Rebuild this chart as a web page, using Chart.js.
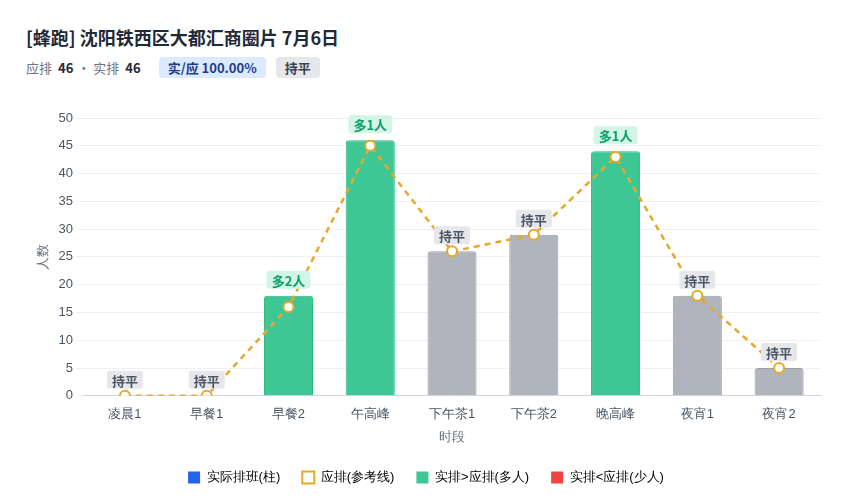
<!DOCTYPE html>
<html><head><meta charset="utf-8">
<script src="https://cdn.jsdelivr.net/npm/chart.js@4"></script>
<style>
body{margin:0;font-family:"Noto Sans CJK SC","Noto Sans",sans-serif;background:#fff;}
#hd{position:absolute;left:26px;top:24px;}
h1{font-size:18px;margin:0 0 7px 0;color:#1f2937;font-weight:700;}
.sub{font-size:13px;color:#6b7280;display:flex;align-items:center;}
.sub b{color:#1f2937;margin:0 4px 0 6px;}
.tag{border-radius:4px;padding:1px 9px;margin-left:10px;font-weight:700;font-size:13px;}
#wrap{position:absolute;left:0;top:100px;width:850px;height:400px;}
</style></head><body>
<div id="hd"><h1>[蜂跑] 沈阳铁西区大都汇商圈片 7月6日</h1>
<div class="sub">应排<b>46</b>· 实排<b>46</b>
<span class="tag" style="background:#dbeafe;color:#1e3a8a;margin-left:14px">实/应 100.00%</span>
<span class="tag" style="background:#e5e7eb;color:#374151">持平</span></div></div>
<div id="wrap"><canvas id="c"></canvas></div>
<script>
const slots = ['凌晨1','早餐1','早餐2','午高峰','下午茶1','下午茶2','晚高峰','夜宵1','夜宵2'];
const actual = [0, 0, 18, 46, 26, 29, 44, 18, 5];
const planned = [0, 0, 16, 45, 26, 29, 43, 18, 5];
const GREEN = '#3ec795', GRAY = '#b0b4bd', RED = '#ef4444', ORANGE = '#e6a82a';

const barColors = actual.map((v, i) => v > planned[i] ? GREEN : v < planned[i] ? RED : GRAY);

const diffLabels = {
  id: 'diffLabels',
  afterDatasetsDraw(chart) {
    const ctx = chart.ctx, y = chart.scales.y;
    const bars = chart.getDatasetMeta(0).data;
    ctx.save();
    ctx.font = 'bold 13px "Noto Sans CJK SC"';
    ctx.textAlign = 'center'; ctx.textBaseline = 'middle';
    actual.forEach((v, i) => {
      const d = v - planned[i];
      const txt = d > 0 ? '多' + d + '人' : d < 0 ? '少' + (-d) + '人' : '持平';
      const top = y.getPixelForValue(Math.max(v, planned[i]));
      const cx = bars[i].x, cy = top - 16;
      const w = ctx.measureText(txt).width + 10;
      ctx.fillStyle = d > 0 ? '#d3f5e5' : d < 0 ? '#fde2e2' : '#e5e7eb';
      ctx.beginPath(); ctx.roundRect(cx - w / 2, cy - 9, w, 18, 3); ctx.fill();
      ctx.fillStyle = d > 0 ? '#0f9f6e' : d < 0 ? '#dc2626' : '#4b5563';
      ctx.fillText(txt, cx, cy + 1);
    });
    ctx.restore();
  }
};

new Chart(document.getElementById('c'), {
  data: {
    labels: slots,
    datasets: [
      { type: 'bar', label: '实际排班(柱)', data: actual, backgroundColor: barColors,
        borderColor: barColors.map(c => c === GRAY ? '#9ca0a8' : '#2fb582'), borderWidth: 1,
        borderRadius: 3, borderSkipped: 'bottom', categoryPercentage: 0.6, barPercentage: 1, order: 2 },
      { type: 'line', label: '应排(参考线)', data: planned, borderColor: ORANGE, borderWidth: 2.5,
        borderDash: [6, 5], pointRadius: 5, pointBackgroundColor: '#fff', pointBorderColor: ORANGE,
        pointBorderWidth: 2, tension: 0, order: 1 }
    ]
  },
  options: {
    responsive: true, maintainAspectRatio: false, animation: false,
    layout: { padding: { left: 32, right: 30, top: 18, bottom: 6 } },
    scales: {
      y: { min: 0, max: 50, ticks: { stepSize: 5, color: '#4b5563', font: { size: 13 } },
        grid: { color: '#eef0f3' }, border: { display: false },
        title: { display: true, text: '人数', color: '#6b7280', font: { size: 13 } } },
      x: { ticks: { color: '#4b5563', font: { size: 13 } }, grid: { display: false },
        border: { color: '#d1d5db' },
        title: { display: true, text: '时段', color: '#6b7280', font: { size: 13 } } }
    },
    plugins: {
      tooltip: { enabled: false },
      legend: { position: 'bottom', labels: {
        color: '#4b5563', font: { size: 13 }, boxWidth: 12, boxHeight: 12, padding: 22,
        generateLabels: () => [
          { text: '实际排班(柱)', fillStyle: '#2563eb', strokeStyle: '#2563eb', lineWidth: 0 },
          { text: '应排(参考线)', fillStyle: '#fff', strokeStyle: ORANGE, lineWidth: 2 },
          { text: '实排>应排(多人)', fillStyle: GREEN, strokeStyle: GREEN, lineWidth: 0 },
          { text: '实排<应排(少人)', fillStyle: RED, strokeStyle: RED, lineWidth: 0 }
        ] } }
    }
  },
  plugins: [diffLabels]
});
</script></body></html>
